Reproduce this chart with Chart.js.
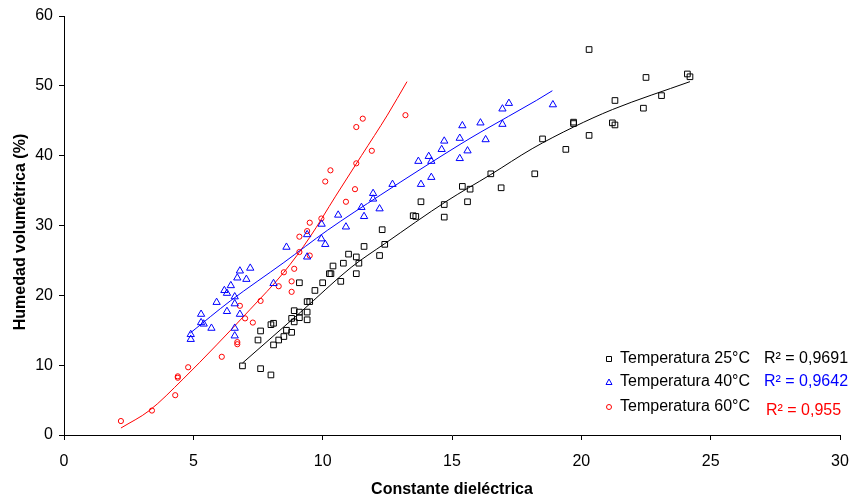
<!DOCTYPE html>
<html>
<head>
<meta charset="utf-8">
<script src="https://cdn.jsdelivr.net/npm/chart.js@4.4.1/dist/chart.umd.min.js"></script>
<style>
  html, body { margin: 0; padding: 0; background: #fff; }
  #wrap { width: 855px; height: 502px; position: relative; }
</style>
</head>
<body>
<div id="wrap"><canvas id="chart" width="855" height="502"></canvas></div>
<script>
// Temperatura 25°C
const x25 = [6.9, 7.6, 8.0, 8.1, 7.5, 7.6, 8.0, 8.1, 8.3, 8.5, 8.6, 8.8, 8.9, 8.8, 8.9, 9.1, 9.1, 9.4, 9.4, 9.4, 9.5, 9.7, 9.1, 10.0, 10.7, 10.26, 10.32, 10.4, 10.8, 11.0, 11.3, 11.3, 11.4, 11.6, 12.2, 12.4, 12.3, 13.8, 13.5, 13.6, 14.7, 14.7, 15.4, 15.7, 15.6, 16.5, 16.9, 18.2, 18.5, 19.4, 19.7, 19.7, 20.3, 20.3, 21.2, 21.3, 21.3, 22.4, 22.5, 23.1, 24.1, 24.2];
const y25 = [9.9, 9.5, 8.6, 12.9, 13.6, 14.9, 15.8, 16.0, 13.6, 14.1, 15.0, 14.7, 16.2, 16.7, 17.8, 17.6, 16.8, 16.5, 17.6, 19.1, 19.1, 20.7, 21.8, 21.8, 22.0, 23.1, 23.1, 24.2, 24.6, 25.9, 23.1, 25.5, 24.6, 27.0, 25.7, 27.3, 29.4, 33.4, 31.4, 31.3, 33.0, 31.2, 35.6, 35.2, 33.4, 37.4, 35.4, 37.4, 42.4, 40.9, 44.6, 44.8, 55.2, 42.9, 44.7, 44.4, 47.9, 46.8, 51.2, 48.6, 51.7, 51.3];
// Temperatura 40°C
const x40 = [4.9, 4.9, 5.3, 5.3, 5.4, 5.7, 5.9, 6.2, 6.3, 6.45, 6.3, 6.6, 6.6, 6.8, 6.7, 7.05, 7.2, 6.8, 6.6, 6.6, 8.1, 8.6, 9.4, 9.4, 9.95, 10.1, 9.96, 10.6, 10.9, 11.5, 11.6, 11.95, 11.95, 12.2, 12.7, 13.7, 13.8, 14.1, 14.2, 14.2, 14.6, 14.7, 15.3, 15.3, 15.4, 16.1, 16.3, 15.6, 16.95, 16.95, 17.2, 18.9];
const y40 = [13.7, 14.4, 17.3, 16.1, 15.9, 15.3, 19.0, 20.7, 20.3, 21.4, 17.7, 19.8, 18.8, 23.5, 22.5, 22.3, 23.9, 17.3, 15.3, 14.2, 21.7, 26.9, 25.5, 28.7, 28.1, 27.3, 30.2, 31.5, 29.8, 32.6, 31.3, 34.6, 33.8, 32.4, 35.9, 39.2, 35.9, 39.9, 39.2, 36.9, 40.9, 42.1, 42.5, 39.6, 44.3, 44.7, 42.3, 40.7, 46.7, 44.5, 47.5, 47.3];
// Temperatura 60°C
const x60 = [2.2, 3.4, 4.3, 4.4, 4.4, 4.8, 6.1, 6.7, 6.7, 6.8, 7.0, 7.3, 7.6, 8.3, 8.5, 8.8, 8.8, 8.9, 9.1, 9.5, 9.1, 9.4, 9.5, 9.95, 10.9, 11.25, 10.1, 10.3, 11.3, 11.9, 11.3, 11.55, 13.2];
const y60 = [2.0, 3.5, 5.7, 8.2, 8.4, 9.7, 11.2, 13.0, 13.3, 18.5, 16.7, 16.1, 19.2, 21.3, 23.3, 22.0, 20.5, 23.8, 26.2, 25.7, 28.4, 29.2, 30.4, 31.0, 33.4, 35.2, 36.3, 37.9, 38.9, 40.7, 44.1, 45.3, 45.8];

// trend lines
const trend25x = [6.9, 9.15, 11.1, 12.4, 14.8, 16.5, 18.1, 19.7, 21.2, 24.2];
const trend25y = [10.3, 17.6, 24.0, 27.4, 33.5, 37.3, 41.0, 44.1, 46.6, 50.6];
const trend40x = [4.88, 6.43, 8.5, 10.18, 12.25, 15.35, 16.12, 18.26, 18.88];
const trend40y = [14.6, 19.2, 24.7, 29.3, 34.4, 41.7, 43.4, 47.9, 49.3];
const trend60x = [2.2, 3.3, 4.6, 5.9, 7.2, 8.5, 9.5, 10.5, 11.5, 12.5, 13.26];
const trend60y = [1.0, 3.5, 8.0, 12.9, 18.0, 23.3, 28.3, 34.2, 40.0, 45.8, 50.6];

const seriesNames = ["Temperatura 25°C", "Temperatura 40°C", "Temperatura 60°C"];
const r2Labels = ["R² = 0,9691", "R² = 0,9642", "R² = 0,955"];
const xTicks = [0, 5, 10, 15, 20, 25, 30];
const yTicks = [0, 10, 20, 30, 40, 50, 60];
const yTitle = "Humedad volumétrica (%)";

const FONT = "'Liberation Sans', Arial, sans-serif";

function pts(xs, ys) {
    return xs.map((x, i) => ({ x: x, y: ys[i] }));
}

const legendPlugin = {
    id: "legendBox",
    afterDraw(chart) {
        const ctx = chart.ctx;
        const rows = [
            { y: 359, color: "#000", style: "rect", ry: 359, rx: 764 },
            { y: 382, color: "#0000ff", style: "triangle", ry: 382, rx: 764 },
            { y: 407, color: "#ff0000", style: "circle", ry: 411, rx: 766 },
        ];
        ctx.save();
        ctx.font = "16px " + FONT;
        ctx.textBaseline = "middle";
        ctx.textAlign = "left";
        rows.forEach((row, i) => {
            ctx.strokeStyle = row.color;
            ctx.lineWidth = 1;
            ctx.beginPath();
            if (row.style === "rect") {
                ctx.rect(606.5, row.y - 2.5, 5, 5);
            } else if (row.style === "triangle") {
                ctx.moveTo(609, row.y - 3);
                ctx.lineTo(612, row.y + 2.5);
                ctx.lineTo(606, row.y + 2.5);
                ctx.closePath();
            } else {
                ctx.arc(609, row.y, 2.5, 0, Math.PI * 2);
            }
            ctx.stroke();
            ctx.fillStyle = "#000";
            ctx.fillText(seriesNames[i], 620, row.y);
            ctx.fillStyle = row.color;
            ctx.fillText(r2Labels[i], row.rx, row.ry);
        });

        // y axis title
        ctx.translate(21, 232);
        ctx.rotate(-Math.PI / 2);
        ctx.font = "bold 16px " + FONT;
        ctx.textAlign = "center";
        ctx.fillStyle = "#000";
        ctx.fillText(yTitle, 0, 0);
        ctx.restore();
    },
};

const ctx = document.getElementById("chart").getContext("2d");
new Chart(ctx, {
    type: "scatter",
    data: {
        datasets: [
            {
                label: seriesNames[0],
                data: pts(x25, y25),
                pointStyle: "rect",
                pointRadius: 4,
                borderColor: "#000",
                backgroundColor: "rgba(0,0,0,0)",
                borderWidth: 1,
            },
            {
                label: seriesNames[1],
                data: pts(x40, y40),
                pointStyle: "triangle",
                pointRadius: 4.2,
                borderColor: "#0000ff",
                backgroundColor: "rgba(0,0,0,0)",
                borderWidth: 1,
            },
            {
                label: seriesNames[2],
                data: pts(x60, y60),
                pointStyle: "circle",
                pointRadius: 2.6,
                borderColor: "#ff0000",
                backgroundColor: "rgba(0,0,0,0)",
                borderWidth: 1,
            },
            {
                data: pts(trend25x, trend25y),
                showLine: true,
                pointRadius: 0,
                borderColor: "#000",
                borderWidth: 1,
                cubicInterpolationMode: "monotone",
            },
            {
                data: pts(trend40x, trend40y),
                showLine: true,
                pointRadius: 0,
                borderColor: "#0000ff",
                borderWidth: 1,
                cubicInterpolationMode: "monotone",
            },
            {
                data: pts(trend60x, trend60y),
                showLine: true,
                pointRadius: 0,
                borderColor: "#ff0000",
                borderWidth: 1,
                cubicInterpolationMode: "monotone",
            },
        ],
    },
    options: {
        responsive: false,
        animation: false,
        events: [],
        layout: { padding: { left: 0, right: 15, top: 16, bottom: 0 } },
        plugins: {
            legend: { display: false },
            tooltip: { enabled: false },
        },
        scales: {
            x: {
                type: "linear",
                min: 0,
                max: 30,
                afterBuildTicks: (scale) => {
                    scale.ticks = xTicks.map((v) => ({ value: v }));
                },
                afterFit: (scale) => {
                    scale.height = 67;
                    scale.paddingLeft = 0;
                    scale.paddingRight = 0;
                },
                grid: { display: true, drawOnChartArea: false, drawTicks: true, tickLength: 5, color: "#000" },
                border: { color: "#000", width: 1 },
                ticks: { color: "#000", font: { family: FONT, size: 16 }, padding: 12, maxRotation: 0 },
                title: {
                    display: true,
                    text: "Constante dieléctrica",
                    color: "#000",
                    font: { family: FONT, size: 16, weight: "bold" },
                    padding: { top: 4, bottom: 3 },
                },
            },
            y: {
                type: "linear",
                min: 0,
                max: 60,
                afterBuildTicks: (scale) => {
                    scale.ticks = yTicks.map((v) => ({ value: v }));
                },
                afterFit: (scale) => {
                    scale.width = 64;
                    scale.paddingTop = 0;
                    scale.paddingBottom = 0;
                },
                grid: { display: true, drawOnChartArea: false, drawTicks: true, tickLength: 5, color: "#000" },
                border: { color: "#000", width: 1 },
                ticks: { color: "#000", font: { family: FONT, size: 16 }, padding: 6 },
                title: { display: false },
            },
        },
    },
    plugins: [legendPlugin],
});
</script>
</body>
</html>
